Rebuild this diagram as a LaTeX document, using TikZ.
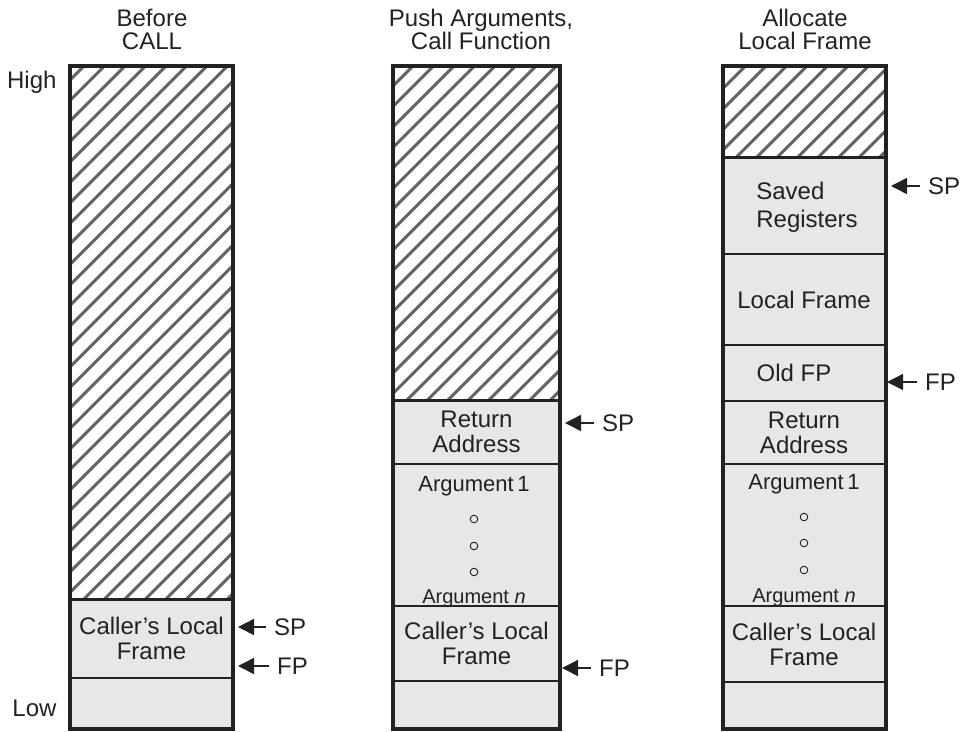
\documentclass[tikz,border=0pt]{standalone}
\usepackage{fontspec}
\setmainfont{Liberation Sans}
\usetikzlibrary{arrows.meta}
\definecolor{cellgray}{RGB}{230,231,233}
\definecolor{inkgray}{RGB}{35,33,34}
\definecolor{hatchgray}{RGB}{100,100,100}
\begin{document}
\begin{tikzpicture}[x=1pt,y=-1pt]

      \tikzset{celltext/.style={font=\fontsize{24}{25}\selectfont, text=inkgray},
               cell/.style={celltext, draw=inkgray, line width=1.2pt, fill=cellgray, anchor=north, inner sep=0pt, outer sep=0pt, align=center},
               free/.style={cell, fill=white},
               frame/.style={draw=inkgray, line width=4pt},
               divider/.style={draw=inkgray, line width=3pt},
               hatch/.style={draw=hatchgray, line width=3pt},
               title/.style={font=\fontsize{24}{23}\selectfont, text=inkgray, align=center},
               reg/.style={celltext, anchor=west, inner sep=4pt},
               argtext/.style={text=inkgray, anchor=base, inner sep=0pt},
               ptr/.style={-{Triangle[length=16pt,width=16pt]}, line width=1.5pt, draw=inkgray, fill=inkgray, shorten <=4pt}}
      \useasboundingbox (0,0) rectangle (965,731);
%% Titles
      	\node[title] (title1) at (152,29) {Before\\CALL};
      	\node[title] (title2) at (481,29) {Push Arguments,\\Call Function};
      	\node[title] (title3) at (805,29) {Allocate\\Local Frame};
      	\node[celltext, anchor=east] (high) at (60,82) {High};
      	\node[celltext, anchor=east] (low) at (60,708) {Low};
%% Stack 1
      	\node[free, minimum width=163pt, minimum height=533pt] (free1) at (151.5,66) {};
      	\node[cell, minimum width=163pt, minimum height=79pt] (caller1) at (free1.south) {Caller’s Local\\Frame};
      	\node[cell, minimum width=163pt, minimum height=51pt] (base1) at (caller1.south) {};
%% Stack 2
      	\node[free, minimum width=167pt, minimum height=334pt] (free2) at (476.5,66) {};
      	\node[cell, minimum width=167pt, minimum height=64pt] (ret2) at (free2.south) {Return\\Address};
      	\node[cell, minimum width=167pt, minimum height=142pt] (args2) at (ret2.south) {};
      	\node[cell, minimum width=167pt, minimum height=75pt] (caller2) at (args2.south) {Caller’s Local\\Frame};
      	\node[cell, minimum width=167pt, minimum height=48pt] (base2) at (caller2.south) {};
%% Stack 3
      	\node[free, minimum width=163pt, minimum height=91pt] (free3) at (804,66) {};
      	\node[cell, minimum width=163pt, minimum height=97pt,
      	      label={[celltext, align=left, xshift=3pt, yshift=-1.5pt, font=\fontsize{24}{28}\selectfont]center:Saved\\Registers}] (saved3) at (free3.south) {};
      	\node[cell, minimum width=163pt, minimum height=91pt] (local3) at (saved3.south) {Local Frame};
      	\node[cell, minimum width=163pt, minimum height=56pt,
      	      label={[celltext, xshift=-10pt]center:Old FP}] (oldfp3) at (local3.south) {};
      	\node[cell, minimum width=163pt, minimum height=63pt] (ret3) at (oldfp3.south) {Return\\Address};
      	\node[cell, minimum width=163pt, minimum height=142pt] (args3) at (ret3.south) {};
      	\node[cell, minimum width=163pt, minimum height=76pt] (caller3) at (args3.south) {Caller’s Local\\Frame};
      	\node[cell, minimum width=163pt, minimum height=47pt] (base3) at (caller3.south) {};
%% Hatching
      	\foreach \c in {1,2,3} {
      	  \begin{scope}
      	    \clip (free\c.south west) rectangle (free\c.north east);
      	    \foreach \k in {-560,-539.5,...,180}
      	      \draw[hatch] (free\c.south west) ++(\k,0) -- ++(700,-700);
      	  \end{scope}
      	  \draw[divider] (free\c.south west) -- (free\c.south east);
      	}
%% Arguments
      	\node[argtext, font=\fontsize{22}{24}\selectfont] (arg2first) at (474,491) {Argument\,1};
      	\node[argtext, font=\fontsize{20}{22}\selectfont] (arg2last) at (474,603) {Argument \textit{n}};
      	\node[argtext, font=\fontsize{22}{24}\selectfont] (arg3first) at (804,489) {Argument\,1};
      	\node[argtext, font=\fontsize{20}{22}\selectfont] (arg3last) at (804,602) {Argument \textit{n}};
      	\foreach \y in {519,546,572} \draw[inkgray, line width=0.9pt] (474,\y) circle (3.8pt);
      	\foreach \y in {517,543,570} \draw[inkgray, line width=0.9pt] (804,\y) circle (3.8pt);
%% Frames
      	\draw[frame] (free1.north west) rectangle (base1.south east);
      	\draw[frame] (free2.north west) rectangle (base2.south east);
      	\draw[frame] (free3.north west) rectangle (base3.south east);
%% Pointers
      	\node[reg] (sp1) at (270,627) {SP};
      	\node[reg] (fp1) at (273,666) {FP};
      	\node[reg] (sp2) at (598,423) {SP};
      	\node[reg] (fp2) at (595,668) {FP};
      	\node[reg] (sp3) at (924,186) {SP};
      	\node[reg] (fp3) at (921,382) {FP};
      	\coordinate (sp1tip) at (238,627);
      	\coordinate (fp1tip) at (238,666);
      	\coordinate (sp2tip) at (565,423);
      	\coordinate (fp2tip) at (562,668);
      	\coordinate (sp3tip) at (891,186);
      	\coordinate (fp3tip) at (887,382);
		\draw[ptr] (sp1) -- (sp1tip);
		\draw[ptr] (fp1) -- (fp1tip);
		\draw[ptr] (sp2) -- (sp2tip);
		\draw[ptr] (fp2) -- (fp2tip);
		\draw[ptr] (sp3) -- (sp3tip);
		\draw[ptr] (fp3) -- (fp3tip);

\end{tikzpicture}
\end{document}
